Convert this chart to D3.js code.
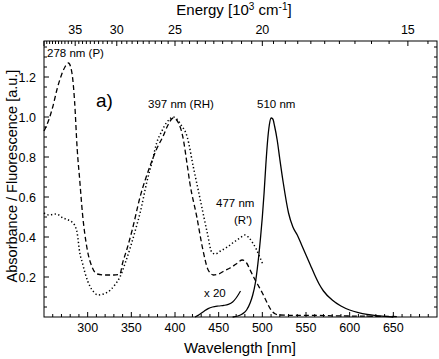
<!DOCTYPE html>
<html>
<head>
<meta charset="utf-8">
<script src="https://cdn.jsdelivr.net/npm/d3@7"></script>
<style>
  body { margin: 0; background: #fff; }
  svg { font-family: "Liberation Sans", Arial, sans-serif; }
</style>
</head>
<body>
<svg id="chart" width="439" height="359"></svg>
<script>
// absorbance, dashed curve (wavelength nm, value)
var dashedWl = [250, 255, 260, 265, 270, 274, 278, 282, 285, 288, 291, 294, 299, 305, 311, 320, 330, 337, 340, 345, 351, 360, 371, 380, 386, 392, 398, 404, 409, 414, 417, 425, 432, 438, 444, 450, 456, 463, 470, 477, 482, 486, 490, 495, 500, 505, 510, 515, 520, 540, 560, 580, 600, 620, 640, 655]
var dashedVal = [0.93, 0.98, 1.05, 1.14, 1.21, 1.25, 1.27, 1.22, 1.08, 0.84, 0.68, 0.52, 0.35, 0.25, 0.215, 0.21, 0.21, 0.215, 0.27, 0.34, 0.435, 0.6, 0.75, 0.85, 0.9, 0.96, 0.995, 0.97, 0.9, 0.76, 0.67, 0.5, 0.335, 0.235, 0.21, 0.215, 0.23, 0.245, 0.265, 0.285, 0.27, 0.235, 0.2, 0.16, 0.12, 0.075, 0.035, 0.015, 0.01, 0.008, 0.008, 0.006, 0.005, 0.004, 0.003, 0.002]

// absorbance, dotted curve
var dottedWl = [250, 256, 264, 272, 278, 282, 285, 288, 291, 294, 297, 300, 303, 307, 312, 318, 326, 331, 337, 343, 349, 355, 360, 368, 374, 379, 385, 390, 394, 398, 402, 407, 414, 421, 429, 437, 442, 446, 452, 460, 466, 471, 476, 480, 485, 489, 493, 497, 501]
var dottedVal = [0.52, 0.51, 0.515, 0.495, 0.485, 0.475, 0.46, 0.42, 0.32, 0.27, 0.22, 0.18, 0.15, 0.125, 0.11, 0.115, 0.135, 0.16, 0.2, 0.27, 0.35, 0.44, 0.52, 0.68, 0.78, 0.87, 0.93, 0.97, 0.99, 1.0, 0.99, 0.96, 0.9, 0.75, 0.585, 0.42, 0.325, 0.315, 0.33, 0.35, 0.37, 0.385, 0.4, 0.41, 0.395, 0.37, 0.34, 0.3, 0.26]

// fluorescence, solid curve
var solidWl = [466, 472, 477, 482, 486, 489, 492, 495, 498, 500, 502, 504, 506, 508, 510, 512, 514, 517, 520, 524, 530, 535, 540, 545, 550, 555, 560, 565, 570, 580, 590, 600, 610, 620, 630, 640, 650]
var solidVal = [0.0, 0.005, 0.015, 0.035, 0.07, 0.11, 0.17, 0.27, 0.4, 0.5, 0.62, 0.76, 0.88, 0.96, 0.995, 0.99, 0.955, 0.885, 0.79, 0.67, 0.52, 0.45, 0.41, 0.36, 0.31, 0.26, 0.21, 0.165, 0.13, 0.085, 0.055, 0.035, 0.022, 0.013, 0.007, 0.003, 0.0]

// fluorescence x 20 segment
var x20Wl = [423, 428, 433, 438, 443, 450, 456, 461, 466, 470, 473, 475]
var x20Val = [0.0, 0.013, 0.028, 0.042, 0.05, 0.055, 0.058, 0.063, 0.075, 0.095, 0.115, 0.13]

var wlTicks = [300, 350, 400, 450, 500, 550, 600, 650]
var yTicks = [0.2, 0.4, 0.6, 0.8, 1.0, 1.2]
var energyTicks = [35, 30, 25, 20, 15]

var svg = d3.select("#chart")
var margin = { left: 44, right: 437, top: 41, bottom: 317 }

var x = d3.scaleLinear().domain([250, 700]).range([margin.left, margin.right])
var y = d3.scaleLinear().domain([0, 1.38]).range([margin.bottom, margin.top])

var line = d3.line()
  .x(function (d) { return x(d[0]) })
  .y(function (d) { return y(d[1]) })
  .curve(d3.curveMonotoneX)

function pairs(a, b) { return a.map(function (v, i) { return [v, b[i]] }) }

// curves
var plot = svg.append("g").attr("fill", "none").attr("stroke", "#000")
plot.append("path").attr("d", line(pairs(dashedWl, dashedVal)))
  .attr("stroke-width", 1.3).attr("stroke-dasharray", "5,3")
plot.append("path").attr("d", line(pairs(dottedWl, dottedVal)))
  .attr("stroke-width", 1.5).attr("stroke-dasharray", "1.3,2.4")
plot.append("path").attr("d", line(pairs(solidWl, solidVal)))
  .attr("stroke-width", 1.3)
plot.append("path").attr("d", line(pairs(x20Wl, x20Val)))
  .attr("stroke-width", 1.2)

// frame
svg.append("rect")
  .attr("x", margin.left).attr("y", margin.top)
  .attr("width", margin.right - margin.left).attr("height", margin.bottom - margin.top)
  .attr("fill", "none").attr("stroke", "#000").attr("stroke-width", 1)

var tk = svg.append("g").attr("stroke", "#000").attr("stroke-width", 1)

// bottom ticks (inward)
d3.range(260, 700, 10).forEach(function (v) {
  var len = v % 50 === 0 ? 5 : 3
  tk.append("line").attr("x1", x(v)).attr("x2", x(v))
    .attr("y1", margin.bottom).attr("y2", margin.bottom - len)
})
svg.append("g").selectAll("text").data(wlTicks).join("text")
  .attr("x", function (d) { return x(d) }).attr("y", 332)
  .attr("text-anchor", "middle").attr("font-size", 12.5)
  .text(function (d) { return d })

// left and right ticks
d3.range(0.05, 1.36, 0.05).forEach(function (v) {
  var major = Math.abs(v * 5 - Math.round(v * 5)) < 1e-6
  var len = major ? 5 : 3
  tk.append("line").attr("x1", margin.left).attr("x2", margin.left + len)
    .attr("y1", y(v)).attr("y2", y(v))
  tk.append("line").attr("x1", margin.right).attr("x2", margin.right - len)
    .attr("y1", y(v)).attr("y2", y(v))
})
svg.append("g").selectAll("text").data(yTicks).join("text")
  .attr("x", 36).attr("y", function (d) { return y(d) + 4.5 })
  .attr("text-anchor", "end").attr("font-size", 12.5)
  .text(function (d) { return d.toFixed(1) })

// top energy axis, 10^3 cm-1 -> nm
function eToX(e) { return x(10000 / e) }
d3.range(14.5, 40.01, 0.5).forEach(function (e) {
  var px = eToX(e)
  if (px < margin.left || px > margin.right) return
  var len = e % 5 === 0 ? 5 : 3
  tk.append("line").attr("x1", px).attr("x2", px)
    .attr("y1", margin.top).attr("y2", margin.top + len)
})
svg.append("g").selectAll("text").data(energyTicks).join("text")
  .attr("x", function (d) { return eToX(d) }).attr("y", 34)
  .attr("text-anchor", "middle").attr("font-size", 12.5)
  .text(function (d) { return d })

// axis titles
svg.append("text").attr("x", 240).attr("y", 353).attr("text-anchor", "middle")
  .attr("font-size", 15).text("Wavelength [nm]")

var et = svg.append("text").attr("x", 234).attr("y", 15).attr("text-anchor", "middle")
  .attr("font-size", 15)
et.append("tspan").text("Energy [10")
et.append("tspan").attr("font-size", 10).attr("dy", -5).text("3")
et.append("tspan").attr("dy", 5).text(" cm")
et.append("tspan").attr("font-size", 10).attr("dy", -5).text("-1")
et.append("tspan").attr("dy", 5).text("]")

svg.append("text").attr("transform", "translate(17,176) rotate(-90)")
  .attr("text-anchor", "middle").attr("font-size", 14.5)
  .text("Absorbance / Fluorescence [a.u.]")

// annotations
var ann = svg.append("g").attr("font-size", 11.5)
ann.append("text").attr("x", 47).attr("y", 57).text("278 nm (P)")
ann.append("text").attr("x", 148).attr("y", 108).text("397 nm (RH)")
ann.append("text").attr("x", 257).attr("y", 108).text("510 nm")
ann.append("text").attr("x", 216).attr("y", 207).text("477 nm")
ann.append("text").attr("x", 234).attr("y", 224).text("(R')")
ann.append("text").attr("x", 204).attr("y", 297).text("x 20")
svg.append("text").attr("x", 96).attr("y", 107).attr("font-size", 19).text("a)")
</script>
</body>
</html>
